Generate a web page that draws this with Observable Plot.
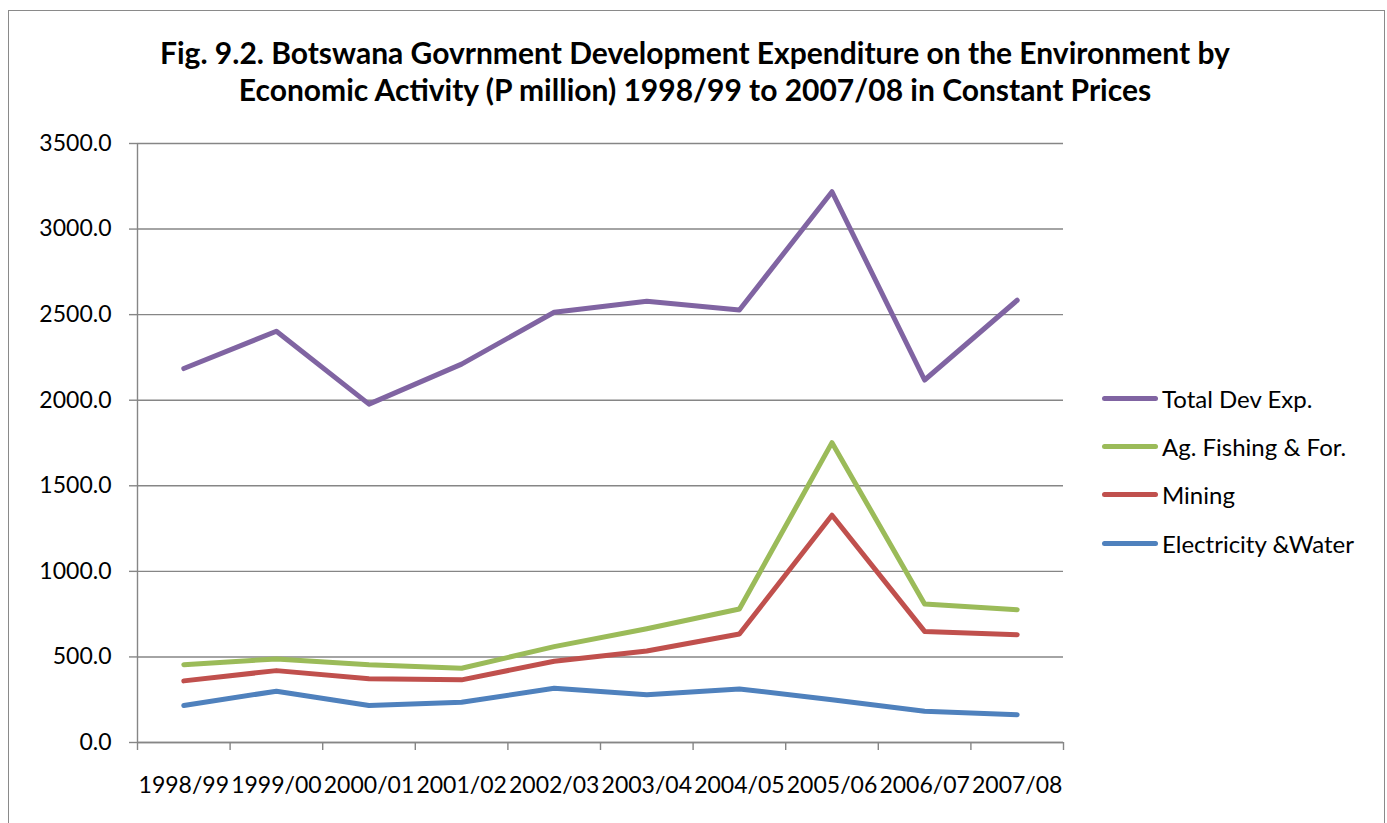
<!DOCTYPE html>
<html>
<head>
<meta charset="utf-8">
<script src="https://cdn.jsdelivr.net/npm/d3@7"></script>
<script src="https://cdn.jsdelivr.net/npm/@observablehq/plot@0.6"></script>
<style>
  html, body { margin: 0; padding: 0; background: #fff; width: 1387px; height: 823px; overflow: hidden; font-family: Lato, "Open Sans", sans-serif; color: #000; }
  #frame { position: absolute; left: 8px; top: 10px; width: 1377px; height: 840px; border: 1.5px solid #8a8a8a; box-sizing: border-box; }
  #title { position: absolute; left: 8px; top: 34px; width: 1374px; text-align: center; font-weight: bold; font-size: 30px; line-height: 37px; }
  #chart { position: absolute; left: 0; top: 120px; }
  #legend { position: absolute; left: 1102px; top: 374px; font-size: 24px; }
  .row { display: flex; align-items: center; height: 48.4px; white-space: nowrap; }
  .sw { width: 56px; height: 5px; border-radius: 3px; margin-right: 4px; }
</style>
</head>
<body>
<div id="frame"></div>
<div id="title">Fig. 9.2. Botswana Govrnment Development Expenditure on the Environment by<br>Economic Activity (P million) 1998/99 to 2007/08 in Constant Prices</div>
<div id="chart"></div>
<div id="legend"></div>
<script>
const years = ["1998/99","1999/00","2000/01","2001/02","2002/03","2003/04","2004/05","2005/06","2006/07","2007/08"];
const seriesNames = ["Total Dev Exp.", "Ag. Fishing & For.", "Mining", "Electricity &Water"];
const seriesColors = ["#8064A2", "#9BBB59", "#C0504D", "#4F81BD"];
const totalDev = [2185, 2403, 1977, 2211, 2514, 2578, 2527, 3218, 2118, 2584];
const agFishing = [455, 488, 455, 434, 560, 665, 780, 1752, 809, 776];
const mining = [360, 420, 373, 366, 475, 535, 634, 1328, 649, 630];
const electricity = [216, 300, 216, 235, 317, 279, 313, 250, 183, 162];
const yTicks = [0, 500, 1000, 1500, 2000, 2500, 3000, 3500];

const seriesValues = [totalDev, agFishing, mining, electricity];
const data = [];
seriesNames.forEach((name, s) => {
  seriesValues[s].forEach((v, i) => data.push({series: name, i, year: years[i], value: v}));
});

const gray = "#868686";
const idx = years.map((_, i) => i);
const bounds = years.map((_, i) => i - 0.5).concat([years.length - 0.5]);

const chart = Plot.plot({
  width: 1387,
  height: 703,
  marginLeft: 137,
  marginRight: 324,
  marginTop: 23,
  marginBottom: 81,
  style: {fontFamily: "Lato, 'Open Sans', sans-serif", fontSize: "23px", color: "#000", background: "transparent"},
  x: {type: "linear", domain: [-0.5, years.length - 0.5]},
  y: {domain: [0, 3500]},
  color: {domain: seriesNames, range: seriesColors},
  marks: [
    Plot.gridY(yTicks, {stroke: gray, strokeOpacity: 1, strokeWidth: 1.4}),
    Plot.ruleX([-0.5], {stroke: gray, strokeWidth: 1.4}),
    Plot.ruleY([0], {stroke: gray, strokeWidth: 1.4}),
    Plot.axisY(yTicks, {tickSize: 8, tickPadding: 18, tickFormat: d3.format(".1f"), stroke: gray, strokeWidth: 1.4, label: null}),
    Plot.axisX(bounds, {tickSize: 8, tickFormat: () => "", stroke: gray, strokeWidth: 1.4, label: null}),
    Plot.axisX(idx, {tickSize: 0, tickPadding: 34, tickFormat: i => years[i], label: null}),
    Plot.line(data, {x: "i", y: "value", z: "series", stroke: "series", strokeWidth: 5, strokeLinecap: "round", strokeLinejoin: "round"})
  ]
});
document.getElementById("chart").appendChild(chart);

const legend = document.getElementById("legend");
seriesNames.forEach((name, s) => {
  const row = document.createElement("div");
  row.className = "row";
  const sw = document.createElement("div");
  sw.className = "sw";
  sw.style.background = seriesColors[s];
  const t = document.createElement("span");
  t.textContent = name;
  row.appendChild(sw);
  row.appendChild(t);
  legend.appendChild(row);
});
</script>
</body>
</html>
